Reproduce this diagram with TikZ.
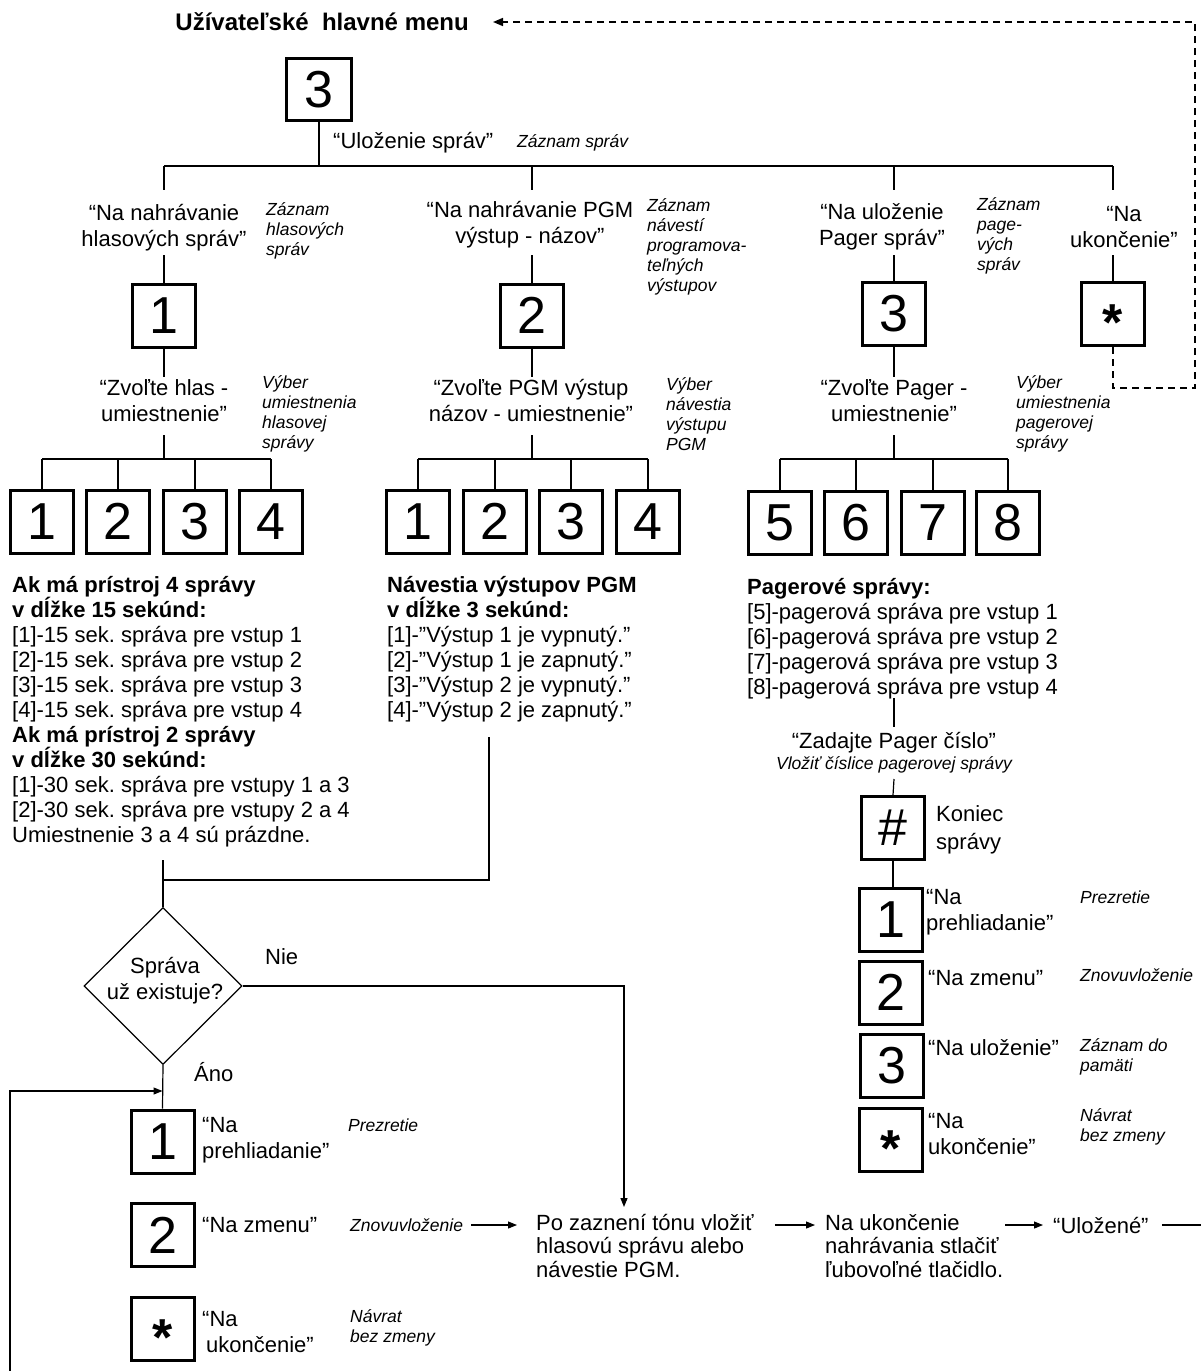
\documentclass[tikz,border=0pt]{standalone}
\usepackage{fontspec}
\setmainfont{Liberation Sans}
\usetikzlibrary{arrows.meta,shapes.geometric}
\frenchspacing
\newcommand\mtxt{\fontsize{22}{26}\selectfont}
\newcommand\ltxt{\fontsize{22}{25}\selectfont}
\newcommand\ptxt{\fontsize{22}{23.5}\selectfont}
\newcommand\itxt{\fontsize{17.5}{20}\selectfont\itshape}
\newcommand\digf{\fontsize{52}{52}\selectfont}
\newcommand\starg{\smash{\raisebox{-0.5em}{\bfseries *}}}
\tikzset{
  key/.style={draw, line width=3pt, minimum width=63pt, minimum height=63pt, inner sep=0pt, font=\digf},
  lbl/.style={font=\mtxt, align=center, inner sep=0pt},
  lbll/.style={font=\mtxt, align=left, inner sep=0pt, anchor=west},
  note/.style={font=\itxt, align=left, inner sep=0pt, anchor=west},
  listtxt/.style={font=\ltxt, align=left, inner sep=0pt, anchor=north west},
  flowtxt/.style={font=\ptxt, align=left, inner sep=0pt, anchor=north west},
  wire/.style={line width=1.2pt},
  arr/.style={wire, -{Triangle[length=9pt,width=7pt]}},
  dashline/.style={line width=1.6pt, dash pattern=on 7pt off 5pt, -{Triangle[length=10pt,width=8pt]}},
}
\begin{document}
\begin{tikzpicture}[x=1pt,y=-1pt]
\useasboundingbox (0,0) rectangle (1201,1371);

% title
\node[font=\fontsize{24}{28}\selectfont\bfseries, inner sep=0pt, anchor=east] (title) at (469,22) {Užívateľské\ \ hlavné menu};

% top key
\node[key, minimum width=65pt, minimum height=62pt] (t3) at (319,89.5) {3};
\node[lbll] (ulo) at (333,143) {“Uloženie správ”};
\node[note] (zs) at (517,143) {Záznam správ};

% level 2 keys
\node[key] (k1) at (164,315.5) {1};
\node[key] (k2) at (532,315.5) {2};
\node[key] (k3) at (894,314) {3};
\node[key] (ks) at (1113,314) {\starg};

\coordinate (bar0) at (0,166);
\coordinate (lev1) at (0,190);
\coordinate (lev1b) at (0,255);
\draw[wire] (t3.south) -- (t3.south |- bar0);
\draw[wire] (k1.north |- bar0) -- (ks.north |- bar0);
\foreach \n in {k1,k2,k3,ks} {
  \draw[wire] (\n.north |- bar0) -- (\n.north |- lev1);
  \draw[wire] (\n.north |- lev1b) -- (\n.north);
}

\node[lbl] (na1) at (164,228) {“Na nahrávanie\\hlasových správ”};
\node[note] (zz1) at (266,231) {Záznam\\hlasových\\správ};
\node[lbl] (na2) at (530,225) {“Na nahrávanie PGM\\výstup - názov”};
\node[note] (zz2) at (647,247) {Záznam\\návestí\\programova-\\teľných\\výstupov};
\node[lbl] (na3) at (882,227) {“Na uloženie\\Pager správ”};
\node[note] (zz3) at (977,236) {Záznam\\page-\\vých\\správ};
\node[lbl] (na4) at (1124,227) {“Na\\ukončenie”};

% level 3 texts
\node[lbl] (zv1) at (164,401) {“Zvoľte hlas -\\umiestnenie”};
\node[note] (vb1) at (262,414) {Výber\\umiestnenia\\hlasovej\\správy};
\node[lbl] (zv2) at (531,401) {“Zvoľte PGM výstup\\názov - umiestnenie”};
\node[note] (vb2) at (666,414) {Výber\\návestia\\výstupu\\PGM};
\node[lbl] (zv3) at (894,401) {“Zvoľte Pager -\\umiestnenie”};
\node[note] (vb3) at (1016,414) {Výber\\umiestnenia\\pagerovej\\správy};

\coordinate (lev2a) at (0,377);
\coordinate (lev2b) at (0,435);
\coordinate (bar1) at (0,459);
\foreach \n in {k1,k2,k3} {
  \draw[wire] (\n.south) -- (\n.south |- lev2a);
  \draw[wire] (\n.south |- lev2b) -- (\n.south |- bar1);
}

% level 4 keys
\foreach \i/\x in {1/42,2/118,3/195,4/271} \node[key] (a\i) at (\x,521.5) {\i};
\foreach \i/\x in {1/418,2/495,3/571,4/648} \node[key] (m\i) at (\x,521.5) {\i};
\foreach \i/\x in {5/780,6/856,7/933,8/1008} \node[key] (g\i) at (\x,522.5) {\i};
\draw[wire] (a1.north |- bar1) -- (a4.north |- bar1);
\draw[wire] (m1.north |- bar1) -- (m4.north |- bar1);
\draw[wire] (g5.north |- bar1) -- (g8.north |- bar1);
\foreach \n in {a1,a2,a3,a4,m1,m2,m3,m4,g5,g6,g7,g8}
  \draw[wire] (\n.north |- bar1) -- (\n.north);

% text lists
\node[listtxt] (ta) at (12,576) {\textbf{Ak má prístroj 4 správy}\\\textbf{v dĺžke 15 sekúnd:}\\{}[1]-15 sek. správa pre vstup 1\\{}[2]-15 sek. správa pre vstup 2\\{}[3]-15 sek. správa pre vstup 3\\{}[4]-15 sek. správa pre vstup 4\\\textbf{Ak má prístroj 2 správy}\\\textbf{v dĺžke 30 sekúnd:}\\{}[1]-30 sek. správa pre vstupy 1 a 3\\{}[2]-30 sek. správa pre vstupy 2 a 4\\Umiestnenie 3 a 4 sú prázdne.};
\node[listtxt] (tb) at (387,576) {\textbf{Návestia výstupov PGM}\\\textbf{v dĺžke 3 sekúnd:}\\{}[1]-”Výstup 1 je vypnutý.”\\{}[2]-”Výstup 1 je zapnutý.”\\{}[3]-”Výstup 2 je vypnutý.”\\{}[4]-”Výstup 2 je zapnutý.”};
\node[listtxt] (tc) at (747,578) {\textbf{Pagerové správy:}\\{}[5]-pagerová správa pre vstup 1\\{}[6]-pagerová správa pre vstup 2\\{}[7]-pagerová správa pre vstup 3\\{}[8]-pagerová správa pre vstup 4};

% decision
\node[diamond, draw, line width=1.2pt, minimum width=158pt, minimum height=157pt, inner sep=0pt] (dia) at (163,986) {};
\node[lbl] (diat) at (165,981) {Správa\\už existuje?};
\coordinate (pA) at (163,860);
\coordinate (pB) at (489,737);
\coordinate (jn) at (0,880);
\draw[wire] (pA) -- (dia.north);
\draw[wire] (pB) |- (dia.north |- jn);
\node[lbll] (nie) at (265,957) {Nie};
\node[lbll] (ano) at (194,1072) {Áno};

% lower-left keys
\node[key] (L1) at (162.5,1141.5) {1};
\node[key] (L2) at (162.5,1235) {2};
\node[key] (Ls) at (162.5,1329) {\starg};
\draw[wire] (dia.south) -- (L1.north);
\coordinate (loopB) at (10,1371);
\coordinate (loopJ) at (0,1091);
\draw[arr] (loopB) |- (L1.north |- loopJ);

\node[lbll] (lt1) at (202,1140) {“Na\\prehliadanie”};
\node[note] (ln1) at (348,1125) {Prezretie};
\node[lbll] (lt2) at (202,1225) {“Na zmenu”};
\node[note] (ln2) at (350,1225) {Znovuvloženie};
\node[lbll] (lt3) at (202,1332) {“Na\\\hspace{4pt}ukončenie”};
\node[note] (ln3) at (350,1328) {Návrat\\bez zmeny};

% record flow
\node[flowtxt] (po) at (536,1214) {Po zaznení tónu vložiť\\hlasovú správu alebo\\návestie PGM.};
\node[flowtxt] (nu) at (825,1214) {Na ukončenie\\nahrávania stlačiť\\ľubovoľné tlačidlo.};
\node[lbll] (uz) at (1053,1225) {“Uložené”};
\coordinate (row) at (0,1225);
\coordinate (poin) at (624,1207);
\coordinate (exitR) at (1201,1225);
\draw[arr] (dia.east) -| (poin);
\draw[arr] ([xshift=8pt]ln2.east) -- ([xshift=-19pt]po.west |- row);
\draw[arr] ([xshift=21pt]po.north east |- row) -- ([xshift=-10pt]nu.north west |- row);
\draw[arr] ([xshift=2pt]nu.north east |- row) -- ([xshift=-10pt]uz.west);
\draw[wire] ([xshift=13pt]uz.east) -- (exitR);

% pager number column
\coordinate (pC) at (894,698);
\coordinate (pCb) at (894,727);
\node[lbl] (za) at (894,743) {“Zadajte Pager číslo”};
\node[font=\itxt, inner sep=0pt] (vl) at (894,765) {Vložiť číslice pagerovej správy};
\node[key] (hb) at (893,828) {\#};
\node[lbll, font=\fontsize{22}{27.5}\selectfont] (kon) at (936,830) {Koniec\\správy};
\draw[wire] (pC) -- (pCb);
\draw[wire] (vl.south |- 0,779) -- (hb.north);

\node[key] (p1) at (891,920) {1};
\node[key] (p2) at (891,992.5) {2};
\node[key] (p3) at (892,1065.5) {3};
\node[key] (ps) at (891,1140) {\starg};
\draw[wire] (hb.south) -- (hb.south |- p1.north);

\node[lbll] (pt1) at (926,912) {“Na\\prehliadanie”};
\node[note] (pn1) at (1080,897) {Prezretie};
\node[lbll] (pt2) at (928,978) {“Na zmenu”};
\node[note] (pn2) at (1080,975) {Znovuvloženie};
\node[lbll] (pt3) at (928,1048) {“Na uloženie”};
\node[note] (pn3) at (1080,1056.5) {Záznam do\\pamäti};
\node[lbll] (pt4) at (928,1134.5) {“Na\\ukončenie”};
\node[note] (pn4) at (1080,1127) {Návrat\\bez zmeny};

% dashed return to main menu
\coordinate (dk1) at (1195,388);
\coordinate (dk2) at (1195,22);
\draw[dashline] (ks.south) |- (dk1) -- (dk2) -- ([xshift=24pt]title.east);
\end{tikzpicture}
\end{document}
